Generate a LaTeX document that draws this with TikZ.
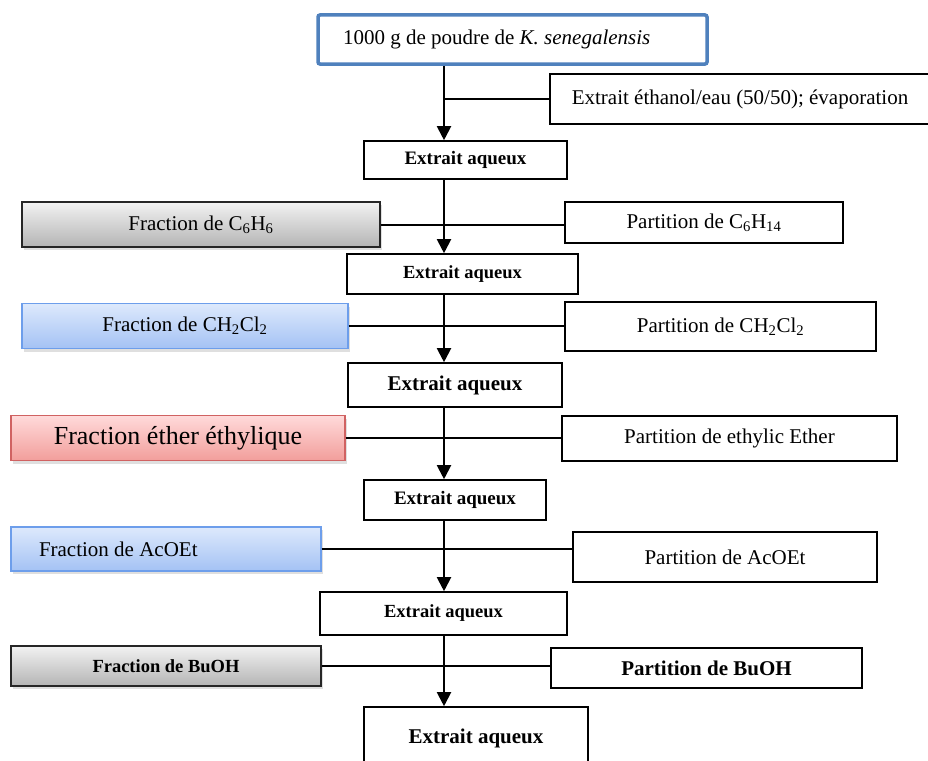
\documentclass[tikz,border=0pt]{standalone}
\usepackage{fontspec}
\setmainfont{Liberation Serif}
\usetikzlibrary{positioning, arrows.meta, shadows}

\definecolor{srcblue}{HTML}{4F81BD}
\definecolor{fracblue}{HTML}{6D9EEB}
\definecolor{bluetop}{HTML}{DDE9FC}
\definecolor{bluebot}{HTML}{A4C2F4}
\definecolor{fracred}{HTML}{D06262}
\definecolor{redtop}{HTML}{FFDADA}
\definecolor{redbot}{HTML}{F29E9B}
\definecolor{graytop}{HTML}{F2F2F2}
\definecolor{graybot}{HTML}{B4B4B4}
\newcommand{\fsz}[1]{\fontsize{#1}{#1}\selectfont}

\begin{document}
\begin{tikzpicture}[
    x=1pt, y=-1pt,
    box/.style={draw, line width=1.6pt, inner sep=0pt, fill=white},
    source/.style={box, draw=srcblue, line width=3.5pt, rounded corners=2pt, font=\fsz{21}},
    extract/.style={box, font=\fsz{19}\bfseries},
    partition/.style={box, font=\fsz{21}},
    fraction/.style={box, font=\fsz{21}, drop shadow={opacity=0.25, shadow xshift=2pt, shadow yshift=-3pt}},
    grayfrac/.style={fraction, draw=black!85, top color=graytop, bottom color=graybot},
    bluefrac/.style={fraction, draw=fracblue, line width=1.2pt, top color=bluetop, bottom color=bluebot},
    redfrac/.style={fraction, draw=fracred, line width=1.2pt, top color=redtop, bottom color=redbot},
    flow/.style={-{Triangle[width=14pt, length=14pt]}, line width=2pt},
    link/.style={line width=2pt}
]
    \useasboundingbox (0,0) rectangle (928,760);

    % --- MAIN COLUMN ---
    \coordinate (trunk) at (444,0);
    \node[source, minimum width=389pt, minimum height=49pt] (src) at (512.5,39.5)
        {\makebox[339pt][l]{1000 g de poudre de \textit{K. senegalensis}}};
    \node[partition, minimum width=380pt, minimum height=50pt] (evap) at (740,99)
        {Extrait éthanol/eau (50/50); évaporation};

    \node[extract, minimum width=203pt, minimum height=38pt] (ea1) at (465.5,160) {Extrait aqueux};
    \node[extract, minimum width=231pt, minimum height=40pt, font=\fsz{18.5}\bfseries] (ea2) at (462.5,274) {Extrait aqueux};
    \node[extract, minimum width=214pt, minimum height=44pt, font=\fsz{21}\bfseries] (ea3) at (455,385) {Extrait aqueux};
    \node[extract, minimum width=182pt, minimum height=40pt] (ea4) at (455,500) {Extrait aqueux};
    \node[extract, minimum width=247pt, minimum height=43pt, font=\fsz{18.5}\bfseries] (ea5) at (443.5,613.5) {Extrait aqueux};
    \node[extract, minimum width=224pt, minimum height=62pt, font=\fsz{21}\bfseries] (ea6) at (476,738) {Extrait aqueux};

    % --- FRACTIONS (left) ---
    \node[grayfrac, minimum width=358pt, minimum height=45pt] (frac1) at (201,224.5)
        {Fraction de C\textsubscript{6}H\textsubscript{6}};
    \node[bluefrac, minimum width=326pt, minimum height=45pt] (frac2) at (185,326)
        {Fraction de CH\textsubscript{2}Cl\textsubscript{2}};
    \node[redfrac, minimum width=334pt, minimum height=45pt, font=\fsz{26}] (frac3) at (178,438)
        {Fraction éther éthylique};
    \node[bluefrac, minimum width=310pt, minimum height=44pt] (frac4) at (166,549)
        {\makebox[254pt][l]{Fraction de AcOEt}};
    \node[grayfrac, minimum width=310pt, minimum height=40pt, font=\fsz{18.5}\bfseries] (frac5) at (166,666)
        {Fraction de BuOH};

    % --- PARTITIONS (right) ---
    \node[partition, minimum width=278pt, minimum height=41pt] (part1) at (704,222.5)
        {Partition de C\textsubscript{6}H\textsubscript{14}};
    \node[partition, minimum width=311pt, minimum height=49pt] (part2) at (720.5,326.5)
        {Partition de CH\textsubscript{2}Cl\textsubscript{2}};
    \node[partition, minimum width=335pt, minimum height=45pt] (part3) at (729.5,438.5)
        {Partition de ethylic Ether};
    \node[partition, minimum width=304pt, minimum height=50pt] (part4) at (725,557)
        {Partition de AcOEt};
    \node[partition, minimum width=311pt, minimum height=40pt, font=\fsz{21}\bfseries] (part5) at (706.5,668)
        {Partition de BuOH};

    % --- CONNECTIONS ---
    \draw[link] (evap.west) -- (evap.west -| trunk);
    \foreach \a/\b in {src/ea1, ea1/ea2, ea2/ea3, ea3/ea4, ea4/ea5, ea5/ea6}
        \draw[flow] (\a.south -| trunk) -- (\b.north -| trunk);
    \foreach \i in {1,...,5}
        \draw[link] (frac\i.east) -- (frac\i.east -| part\i.west);

\end{tikzpicture}
\end{document}
